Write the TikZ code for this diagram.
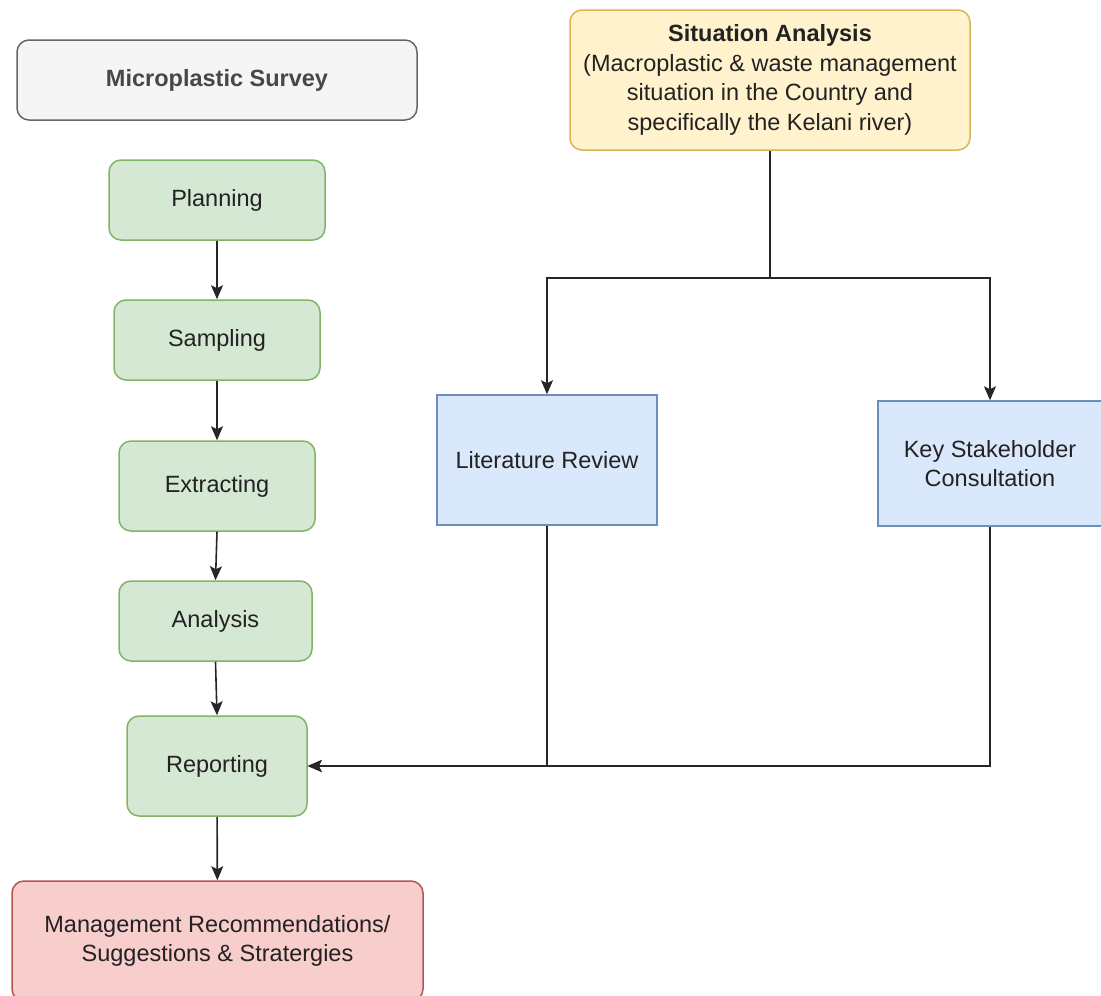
\documentclass[tikz,border=0pt]{standalone}
\usepackage{fontspec}
\setmainfont{Liberation Sans}
\usetikzlibrary{arrows.meta}
\definecolor{gfill}{HTML}{D5E8D4}\definecolor{gdraw}{HTML}{82B366}
\definecolor{sfill}{HTML}{F5F5F5}\definecolor{sdraw}{HTML}{666666}
\definecolor{rfill}{HTML}{F8CECC}\definecolor{rdraw}{HTML}{B85450}
\definecolor{yfill}{HTML}{FFF2CC}\definecolor{ydraw}{HTML}{D6B656}
\definecolor{bfill}{HTML}{DAE8FC}\definecolor{bdraw}{HTML}{6C8EBF}
\definecolor{txt}{HTML}{222222}
\tikzset{
  box/.style={inner sep=0pt, line width=1.5pt, align=center, text=txt,
    font=\fontsize{23.5}{29.5}\selectfont},
  rbox/.style={box, rounded corners=12pt},
  greenbox/.style={rbox, fill=gfill, draw=gdraw},
  graybox/.style={rbox, fill=sfill, draw=sdraw, text=sdraw!70!black},
  redbox/.style={rbox, fill=rfill, draw=rdraw},
  yellowbox/.style={rbox, fill=yfill, draw=ydraw},
  bluebox/.style={box, fill=bfill, draw=bdraw},
  arr/.style={line width=1.6pt, draw=black!85, -{Stealth[length=14pt,width=12pt,inset=3pt]}},
  ln/.style={line width=1.6pt, draw=black!85}
}
\begin{document}
\begin{tikzpicture}[x=1pt,y=-1pt]
\useasboundingbox (0,0) rectangle (1101,996);
\node[graybox, minimum width=400pt, minimum height=80pt, font=\fontsize{23.5}{29.5}\selectfont\bfseries] (ms) at (217,80) {Microplastic Survey};
\node[greenbox, minimum width=216pt, minimum height=80pt] (plan) at (217,200) {Planning};
\node[greenbox, minimum width=206pt, minimum height=80pt] (samp) at (217,340) {Sampling};
\node[greenbox, minimum width=196pt, minimum height=90pt] (ext) at (217,486) {Extracting};
\node[greenbox, minimum width=193pt, minimum height=80pt] (ana) at (215.5,621) {Analysis};
\node[greenbox, minimum width=180pt, minimum height=100pt] (rep) at (217,766) {Reporting};
\node[redbox, minimum width=411pt, minimum height=120pt] (mgmt) at (217.5,941) {Management Recommendations/\\Suggestions \& Stratergies};
\node[yellowbox, minimum width=400pt, minimum height=140pt] (sit) at (770,80) {\textbf{Situation Analysis}\\(Macroplastic \& waste management\\situation in the Country and\\specifically the Kelani river)};
\node[bluebox, minimum width=220pt, minimum height=130pt] (lit) at (547,460) {Literature Review};
\node[bluebox, minimum width=224pt, minimum height=125pt] (key) at (990,463.5) {Key Stakeholder\\Consultation};
\coordinate (j) at (770,278);
\draw[arr] (plan) -- (samp);
\draw[arr] (samp) -- (ext);
\draw[arr] (ext.south) -- (ana.north);
\draw[arr] (ana.south) -- (rep.north);
\draw[arr] (rep) -- (mgmt);
\draw[ln] (sit.south) -- (j);
\draw[arr] (j) -| (lit.north);
\draw[arr] (j) -| (key.north);
\draw[arr] (key.south) |- (rep.east);
\draw[arr] (lit.south) |- (rep.east);
\end{tikzpicture}
\end{document}
